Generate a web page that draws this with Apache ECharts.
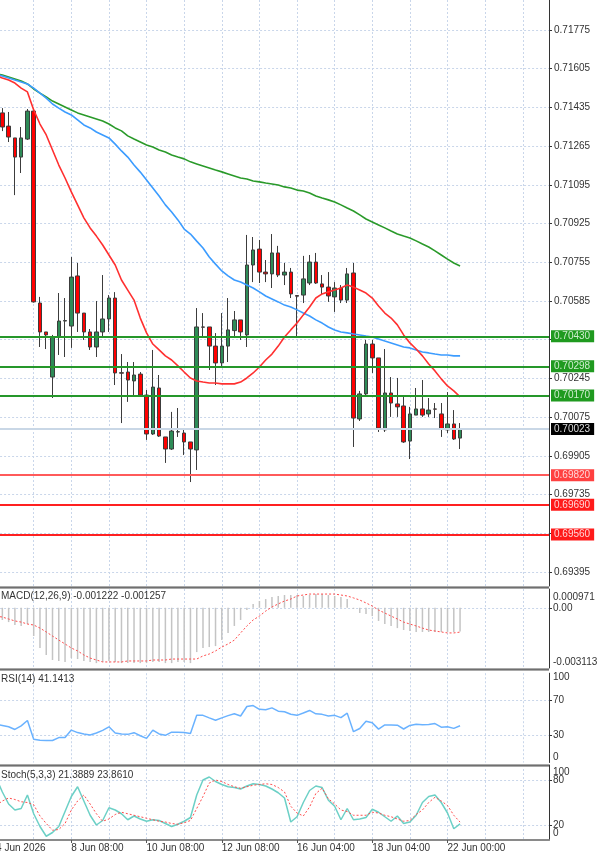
<!DOCTYPE html>
<html><head><meta charset="utf-8">
<script src="https://cdn.jsdelivr.net/npm/echarts@6/dist/echarts.min.js"></script>
<style>html,body{margin:0;padding:0;background:#fff}#c{width:600px;height:858px}</style>
</head><body><div id="c"></div>
<script>
// ---------------- data ----------------
const candleStart = 0;   // index of first candle
const lineStart = -1;    // index of first indicator point
const opens  = [0.71411,0.71353,0.71301,0.71217,0.71296,0.71419,0.70576,0.70449,0.70251,0.70427,0.70497,0.70475,0.70695,0.70532,0.70449,0.70383,0.70449,0.70506,0.70598,0.70270,0.70273,0.70234,0.70264,0.70172,0.70001,0.70203,0.69988,0.69935,0.70010,0.70005,0.69966,0.69931,0.70471,0.70471,0.70387,0.70313,0.70387,0.70455,0.70502,0.70436,0.70743,0.70813,0.70712,0.70704,0.70796,0.70699,0.70712,0.70609,0.70611,0.70664,0.70756,0.70660,0.70646,0.70603,0.70642,0.70589,0.70708,0.70067,0.70177,0.70396,0.70335,0.70019,0.70181,0.70133,0.70124,0.69970,0.70084,0.70111,0.70089,0.70111,0.70089,0.70019,0.70045,0.69983];
const highs  = [0.71432,0.71415,0.71301,0.71349,0.71428,0.71432,0.70603,0.70449,0.70436,0.70620,0.70598,0.70778,0.70752,0.70532,0.70462,0.70585,0.70699,0.70611,0.70624,0.70352,0.70317,0.70317,0.70273,0.70194,0.70370,0.70260,0.69988,0.70098,0.70115,0.70027,0.69966,0.70554,0.70532,0.70471,0.70444,0.70532,0.70598,0.70541,0.70502,0.70875,0.70866,0.70853,0.70765,0.70879,0.70827,0.70752,0.70730,0.70611,0.70783,0.70787,0.70796,0.70699,0.70712,0.70668,0.70655,0.70730,0.70752,0.70190,0.70414,0.70414,0.70335,0.70374,0.70251,0.70247,0.70164,0.70120,0.70203,0.70238,0.70159,0.70137,0.70137,0.70185,0.70106,0.70049];
const lows   = [0.71331,0.71283,0.71050,0.71147,0.71292,0.70578,0.70383,0.70374,0.70159,0.70348,0.70339,0.70379,0.70449,0.70414,0.70370,0.70339,0.70427,0.70449,0.70216,0.70049,0.70142,0.70164,0.70164,0.69975,0.69997,0.69988,0.69874,0.69931,0.69988,0.69909,0.69790,0.69843,0.70423,0.70282,0.70216,0.70295,0.70317,0.70427,0.70414,0.70383,0.70668,0.70664,0.70668,0.70642,0.70690,0.70655,0.70598,0.70423,0.70576,0.70655,0.70660,0.70611,0.70581,0.70537,0.70576,0.70576,0.69944,0.70058,0.70172,0.70269,0.70010,0.70010,0.70076,0.70076,0.69962,0.69891,0.70084,0.70076,0.70076,0.70071,0.69988,0.70005,0.69975,0.69935];
const closes = [0.71349,0.71305,0.71217,0.71301,0.71419,0.70581,0.70449,0.70436,0.70427,0.70497,0.70499,0.70690,0.70532,0.70449,0.70383,0.70449,0.70506,0.70598,0.70269,0.70268,0.70238,0.70260,0.70172,0.70001,0.70207,0.69992,0.69935,0.70014,0.70011,0.69966,0.69935,0.70471,0.70470,0.70387,0.70313,0.70387,0.70458,0.70502,0.70449,0.70743,0.70809,0.70712,0.70704,0.70796,0.70699,0.70712,0.70616,0.70606,0.70682,0.70756,0.70664,0.70646,0.70607,0.70642,0.70589,0.70704,0.70071,0.70177,0.70396,0.70335,0.70027,0.70181,0.70137,0.70120,0.69966,0.70089,0.70111,0.70084,0.70106,0.70110,0.70023,0.70045,0.69979,0.70023];

const maFast = [0.71575,0.71564,0.71555,0.71542,0.71520,0.71503,0.71424,0.71362,0.71314,0.71248,0.71182,0.71125,0.71064,0.71007,0.70950,0.70906,0.70870,0.70831,0.70787,0.70743,0.70677,0.70633,0.70589,0.70510,0.70445,0.70396,0.70370,0.70344,0.70326,0.70300,0.70273,0.70247,0.70234,0.70229,0.70225,0.70225,0.70221,0.70221,0.70221,0.70229,0.70247,0.70269,0.70295,0.70326,0.70352,0.70387,0.70427,0.70458,0.70488,0.70524,0.70559,0.70598,0.70616,0.70625,0.70633,0.70642,0.70655,0.70646,0.70633,0.70620,0.70598,0.70563,0.70532,0.70510,0.70480,0.70436,0.70401,0.70374,0.70344,0.70308,0.70278,0.70243,0.70212,0.70190,0.70164];
const maMid  = [0.71580,0.71573,0.71564,0.71555,0.71547,0.71538,0.71520,0.71498,0.71476,0.71450,0.71432,0.71415,0.71402,0.71380,0.71358,0.71345,0.71327,0.71314,0.71301,0.71274,0.71244,0.71217,0.71182,0.71151,0.71116,0.71081,0.71046,0.71007,0.70976,0.70941,0.70901,0.70879,0.70848,0.70818,0.70778,0.70747,0.70717,0.70695,0.70677,0.70668,0.70655,0.70642,0.70625,0.70607,0.70594,0.70581,0.70567,0.70559,0.70546,0.70532,0.70519,0.70502,0.70488,0.70471,0.70458,0.70449,0.70445,0.70440,0.70436,0.70431,0.70427,0.70418,0.70409,0.70401,0.70392,0.70383,0.70379,0.70370,0.70361,0.70357,0.70352,0.70348,0.70348,0.70344,0.70344];
const maSlow = [0.71584,0.71577,0.71569,0.71560,0.71551,0.71538,0.71516,0.71498,0.71481,0.71463,0.71450,0.71437,0.71424,0.71411,0.71402,0.71393,0.71384,0.71375,0.71362,0.71345,0.71332,0.71310,0.71296,0.71283,0.71270,0.71261,0.71248,0.71239,0.71226,0.71217,0.71209,0.71196,0.71187,0.71178,0.71169,0.71160,0.71152,0.71143,0.71134,0.71125,0.71121,0.71112,0.71108,0.71103,0.71099,0.71094,0.71086,0.71081,0.71072,0.71068,0.71059,0.71046,0.71037,0.71029,0.71020,0.71007,0.70993,0.70980,0.70963,0.70945,0.70932,0.70919,0.70906,0.70892,0.70879,0.70870,0.70862,0.70849,0.70835,0.70822,0.70805,0.70787,0.70769,0.70752,0.70739];

const macdMain = [-0.00060,-0.00063,-0.00074,-0.00089,-0.00094,-0.00084,-0.00146,-0.00208,-0.00244,-0.00270,-0.00275,-0.00280,-0.00260,-0.00265,-0.00275,-0.00280,-0.00286,-0.00280,-0.00275,-0.00280,-0.00286,-0.00286,-0.00286,-0.00286,-0.00286,-0.00280,-0.00280,-0.00286,-0.00286,-0.00280,-0.00280,-0.00286,-0.00229,-0.00208,-0.00203,-0.00198,-0.00167,-0.00130,-0.00094,-0.00063,-0.00012,0.00020,0.00035,0.00045,0.00056,0.00061,0.00066,0.00066,0.00066,0.00061,0.00066,0.00071,0.00071,0.00066,0.00061,0.00056,0.00045,-0.00006,-0.00027,-0.00032,-0.00043,-0.00068,-0.00084,-0.00094,-0.00105,-0.00115,-0.00120,-0.00125,-0.00125,-0.00125,-0.00125,-0.00125,-0.00125,-0.00125,-0.001222];
const macdSignal = [-0.00043,-0.00048,-0.00058,-0.00068,-0.00074,-0.00084,-0.00089,-0.00105,-0.00125,-0.00146,-0.00167,-0.00187,-0.00208,-0.00223,-0.00244,-0.00260,-0.00270,-0.00280,-0.00280,-0.00280,-0.00280,-0.00275,-0.00275,-0.00275,-0.00275,-0.00270,-0.00270,-0.00270,-0.00265,-0.00265,-0.00265,-0.00265,-0.00265,-0.00249,-0.00239,-0.00223,-0.00203,-0.00187,-0.00167,-0.00130,-0.00094,-0.00063,-0.00043,-0.00017,0.00004,0.00020,0.00035,0.00045,0.00061,0.00066,0.00071,0.00071,0.00071,0.00071,0.00071,0.00066,0.00061,0.00051,0.00040,0.00025,0.00009,-0.00012,-0.00027,-0.00043,-0.00058,-0.00074,-0.00084,-0.00094,-0.00105,-0.00115,-0.00120,-0.00125,-0.00130,-0.00130,-0.001257];
const rsi = [43,41.5,40,37,41,47,26,25,24.6,24.6,27.9,27.9,36.3,33.5,32,30.8,33,36,40,33,32,31.5,33.4,30,27,36.3,32,30.4,34,34,33.5,32.6,52.8,52.8,50,47.3,50,52.5,54.6,52.1,62.7,63.8,59.5,59,61.2,57.5,56.8,54,52.8,55.5,58.3,54.5,53.9,52,52.8,50.2,55.3,34.5,38.1,46.2,44.4,37.4,42,42,41.8,37.5,41.5,42.9,42.3,42.5,43.6,39.5,40,38.2,41.1413];
const stochK = [83,64,48,40,42,60,35,18,5,10,18,38,58,71,52,33,20,26,43,40,35,27,32,28,25,27,26,22,18,21,25,30,60,80,84,78,74,71,70,68,72,75,74,72,68,63,56,24,31,50,66,72,70,53,45,27,42,27,28,30,41,37,31,25,32,22,24,33,50,58,60,50,36,15,21.3889];
const stochD = [46,52,56,54,51,50,47,32,22,13,14,22,40,52,60,48,35,25,28,34,37,35,33,31,29,27,25,24,22,21,23,26,42,58,76,80,78,74,71,69,71,73,74,75,74,70,64,45,36,32,44,62,69,55,48,40,38,33,33,33,37,36,33,31,28,25,26,34,40,50,57,52,46,33,23.861];

const resistanceLevels = [0.70430, 0.70298, 0.70170];
const supportLevels = [0.69820, 0.69690, 0.69560];
const currentPrice = 0.70023;

// tick labels
const priceTicks = [0.69395,0.69565,0.69735,0.69905,0.70075,0.70245,0.70415,0.70585,0.70755,0.70925,0.71095,0.71265,0.71435,0.71605,0.71775];
const macdTicks = [0.000971, 0, -0.003113];
const rsiTicks = [100, 70, 30, 0];
const rsiLevels = [70, 30];
const stochTicks = [100, 80, 20, 0];
const stochLevels = [80, 20];
const gridTickIdx = [-1,5,11,17,23,29,35,41,47,53,59,65,71,77,83];
const dateTickIdx = [-1,11,23,35,47,59,71];
const dateTickText = ['4 Jun 2026','8 Jun 08:00','10 Jun 08:00','12 Jun 08:00','16 Jun 04:00','18 Jun 04:00','22 Jun 00:00'];

// ---------------- layout / style ----------------
const FONT = 'Liberation Sans';
const TXT = '#333333';
const GRIDC = '#c9d6ea';
const X_MIN = -1, X_MAX = 87.185;
const P_MIN = 0.693335, P_MAX = 0.719067;
const L = -3.92, R = 51;

const candleData = opens.map((o, i) => [candleStart + i, o, closes[i], lows[i], highs[i]]);
const pts = arr => arr.map((v, i) => [lineStart + i, v]);
const allLevels = resistanceLevels.concat(supportLevels, [currentPrice]);
const priceLabelVals = priceTicks.filter(t => !allLevels.some(l => Math.abs(l - t) < 0.0003));

const lab = {fontSize: 10, fontFamily: FONT, color: TXT};
function xAx(g) {
  return {type: 'value', gridIndex: g, min: X_MIN, max: X_MAX,
    axisLine: {show: false, onZero: false}, axisTick: {show: false, customValues: gridTickIdx},
    axisLabel: {show: false},
    splitLine: {show: true, lineStyle: {color: GRIDC, type: [2, 2], width: 1}}};
}
function yAx(g, min, max, ticks, labels, fmt, margin) {
  return {type: 'value', gridIndex: g, position: 'right', min, max, scale: true,
    axisLine: {show: true, onZero: false, lineStyle: {color: '#333', width: 1}},
    axisTick: {show: true, length: 3, customValues: ticks, lineStyle: {color: '#333'}},
    axisLabel: Object.assign({customValues: labels, formatter: fmt, margin, showMinLabel: true, showMaxLabel: true,
      hideOverlap: false}, lab),
    splitLine: {show: true, lineStyle: {color: GRIDC, type: [2, 2], width: 1}}};
}
// label-only companion axis (for the edge labels that overlap their neighbours)
function yEdge(g, min, max, labels, fmt, rich) {
  return {type: 'value', gridIndex: g, position: 'right', min, max,
    axisLine: {show: false, onZero: false}, axisTick: {show: false, customValues: labels},
    splitLine: {show: false},
    axisLabel: Object.assign({customValues: labels, formatter: fmt, margin: 4, showMinLabel: true, showMaxLabel: true,
      hideOverlap: false, rich}, lab)};
}
function richFor(topPad, botPad) {
  return {t: Object.assign({}, lab, {padding: [topPad, 0, 0, 0]}), b: Object.assign({}, lab, {padding: [0, 0, botPad, 0]})};
}

const yMain = yAx(0, P_MIN, P_MAX, priceTicks, priceLabelVals, v => v.toFixed(5), 5);
const yMacd = yAx(1, macdTicks[2], macdTicks[0], [0], macdTicks,
  v => v === macdTicks[0] ? '{t|' + v.toFixed(6) + '}' : v === macdTicks[2] ? '{b|' + v.toFixed(6) + '}' : v.toFixed(2), 4);
yMacd.axisLabel.rich = richFor(17, 11);
const yRsi = yAx(2, 0, 100, rsiLevels, rsiTicks,
  v => v === 100 ? '{t|100}' : v === 0 ? '{b|0}' : String(v), 4);
yRsi.axisLabel.rich = richFor(9, 10);
const ySto = yAx(3, 0, 100, stochLevels, stochLevels, v => String(v), 4);
const yStoEdge = yEdge(3, 0, 100, [stochTicks[0], stochTicks[3]],
  v => v === 100 ? '{t|100}' : '{b|0}', richFor(14, 14));

function lvl(v, lineColor, boxColor, textColor) {
  return {yAxis: v, lineStyle: {color: lineColor, width: 2, type: 'solid'},
    label: {show: true, position: 'end', distance: 2, formatter: v.toFixed(5),
      backgroundColor: boxColor, color: textColor, fontSize: 10, fontFamily: FONT,
      padding: [1, 4, 1, 3], lineHeight: 10}};
}
const supLine = ['#ff5a5a', '#ff2020', '#ff2020'];
const supBox = ['#ff4040', '#ff1a1a', '#ff1a1a'];

const sep = y => [
  {type: 'rect', shape: {x: 0, y: y, width: 549, height: 3}, style: {fill: '#a9a9a9'}, z: 100},
  {type: 'rect', shape: {x: 0, y: y + 1, width: 549, height: 1}, style: {fill: '#6f6f6f'}, z: 101}
];
const title = (txt, y) => ({type: 'text', x: 1, y: y, z: 102,
  style: {text: txt, fill: TXT, font: '10px "Liberation Sans"', verticalAlign: 'middle'}});

const gridBase = {left: L, right: R, containLabel: false, outerBoundsMode: 'none'};
const option = {
  animation: false,
  backgroundColor: '#ffffff',
  textStyle: {fontFamily: FONT},
  grid: [
    Object.assign({top: 0, height: 586}, gridBase),
    Object.assign({top: 589, height: 79}, gridBase),
    Object.assign({top: 673.2, height: 89.3}, gridBase),
    Object.assign({top: 765, height: 75}, gridBase)
  ],
  xAxis: [xAx(0), xAx(1), xAx(2), xAx(3),
    {type: 'value', gridIndex: 3, position: 'bottom', min: X_MIN, max: X_MAX,
      axisLine: {show: true, onZero: false, lineStyle: {color: '#8a8a8a', width: 2}},
      axisTick: {show: true, length: 3, customValues: dateTickIdx, lineStyle: {color: '#555'}},
      axisLabel: Object.assign({show: true, customValues: dateTickIdx, align: 'left', margin: 3,
        showMinLabel: true, showMaxLabel: true, hideOverlap: false,
        formatter: v => { const k = dateTickIdx.indexOf(Math.round(v)); return k < 0 ? '' : dateTickText[k]; }}, lab),
      splitLine: {show: false}}
  ],
  yAxis: [yMain, yMacd, yRsi, ySto, yStoEdge],
  series: [
    // hidden carrier series for the current-price line (drawn behind candles)
    {type: 'line', xAxisIndex: 0, yAxisIndex: 0, data: pts(maFast), symbol: 'none', z: 1, silent: true,
      lineStyle: {opacity: 0},
      markLine: {silent: true, symbol: ['none', 'none'], animation: false, precision: 5,
        data: [lvl(currentPrice, '#c9d7e6', '#000000', '#dcdcdc')]}},
    {type: 'candlestick', xAxisIndex: 0, yAxisIndex: 0, data: candleData, barWidth: 4, z: 2,
      itemStyle: {color: '#2e8b57', color0: '#ff0000', borderColor: '#3c3c3c', borderColor0: '#3c3c3c', borderWidth: 1}},
    {type: 'line', xAxisIndex: 0, yAxisIndex: 0, data: pts(maSlow), symbol: 'none', z: 3,
      lineStyle: {color: '#2a9a2a', width: 1.6}},
    {type: 'line', xAxisIndex: 0, yAxisIndex: 0, data: pts(maMid), symbol: 'none', z: 3,
      lineStyle: {color: '#3c9cff', width: 1.6}},
    {type: 'line', xAxisIndex: 0, yAxisIndex: 0, data: pts(maFast), symbol: 'none', z: 3,
      lineStyle: {color: '#ff3030', width: 1.6}},
    // hidden carrier series for the support / resistance levels
    {type: 'line', xAxisIndex: 0, yAxisIndex: 0, data: pts(maFast), symbol: 'none', z: 5, silent: true,
      lineStyle: {opacity: 0},
      markLine: {silent: true, symbol: ['none', 'none'], animation: false, precision: 5,
        data: resistanceLevels.map(v => lvl(v, '#25972a', '#1f9a1f', '#cdeccd'))
          .concat(supportLevels.map((v, i) => lvl(v, supLine[i], supBox[i], '#ffd6d6')))}},
    {type: 'bar', xAxisIndex: 1, yAxisIndex: 1, data: pts(macdMain), barWidth: 1.5,
      itemStyle: {color: '#c4c4c4'}},
    {type: 'line', xAxisIndex: 1, yAxisIndex: 1, data: pts(macdSignal), symbol: 'none',
      lineStyle: {color: '#ff4d4d', width: 1, type: [2, 2]}},
    {type: 'line', xAxisIndex: 2, yAxisIndex: 2, data: pts(rsi), symbol: 'none',
      lineStyle: {color: '#6ab2ff', width: 1.5}},
    {type: 'line', xAxisIndex: 3, yAxisIndex: 3, data: pts(stochK), symbol: 'none',
      lineStyle: {color: '#6cd0c6', width: 1.5}},
    {type: 'line', xAxisIndex: 3, yAxisIndex: 3, data: pts(stochD), symbol: 'none',
      lineStyle: {color: '#ff4d4d', width: 1, type: [2, 2]}}
  ],
  graphic: [].concat(sep(586), sep(668), sep(764), [
    title('MACD(12,26,9) ' + macdMain[macdMain.length - 1].toFixed(6) + ' ' + macdSignal[macdSignal.length - 1].toFixed(6), 596),
    title('RSI(14) ' + rsi[rsi.length - 1].toFixed(4), 679),
    title('Stoch(5,3,3) ' + stochK[stochK.length - 1].toFixed(4) + ' ' + stochD[stochD.length - 1].toFixed(4), 775)
  ])
};
const chart = echarts.init(document.getElementById('c'), null, {renderer: 'canvas', width: 600, height: 858});
chart.setOption(option);
</script></body></html>
